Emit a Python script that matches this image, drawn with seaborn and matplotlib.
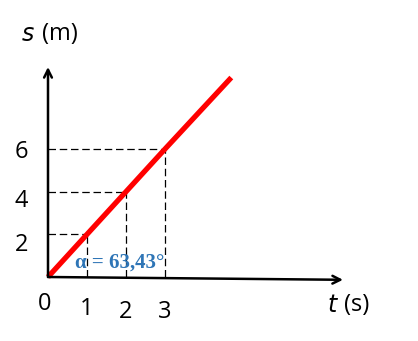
import matplotlib
matplotlib.use("Agg")
import matplotlib.pyplot as plt
import seaborn as sns
import pandas as pd

# data
t_line = [0, 1, 2, 3, 4.7]
s_line = [0, 2, 4, 6, 9.35]
t_marks = [1, 2, 3]
s_marks = [2, 4, 6]
x_tick_labels = ["0", "1", "2", "3"]
y_tick_labels = ["2", "4", "6"]
angle_text = "α = 63,43°"

sns.set_style("white")
plt.rcParams['font.family'] = ['Open Sans', 'DejaVu Sans']
plt.rcParams['text.color'] = 'black'

fig = plt.figure(figsize=(4.18, 3.41), dpi=100)
ax = fig.add_axes([0, 0, 1, 1])
# pixel mapping: x_px = 48 + 39 t ; y_px(from top) = 277 - 21.333 s
ax.set_xlim(-48 / 39, (418 - 48) / 39)
ax.set_ylim(-64 / 21.333, (341 - 64) / 21.333)
for sp in ax.spines.values():
    sp.set_visible(False)
ax.set_xticks([])
ax.set_yticks([])

# dashed guides
for t, s in zip(t_marks, s_marks):
    ax.plot([0, t], [s, s], color="black", lw=0.9, ls=(0, (6, 3)))
    ax.plot([t, t], [0, s], color="black", lw=0.9, ls=(0, (6, 3)))

# axes arrows
ax.annotate("", xy=(0, (277 - 67) / 21.333), xytext=(0, 0),
            arrowprops=dict(arrowstyle="->", color="black", lw=1.8,
                            mutation_scale=14, shrinkA=0, shrinkB=0))
ax.annotate("", xy=((343 - 48) / 39, -2.8 / 21.333), xytext=(0, 0),
            arrowprops=dict(arrowstyle="->", color="black", lw=1.8,
                            mutation_scale=14, shrinkA=0, shrinkB=0))

# red line
df = pd.DataFrame({"t": t_line, "s": s_line})
sns.lineplot(data=df, x="t", y="s", ax=ax, color="#ff0000", lw=3.8,
             solid_capstyle="butt")

# tick labels (hand placed like the original)
xlab_pos = [(-0.08, -1.25), (1.0, -1.5), (2.0, -1.65), (3.0, -1.65)]
for lab, (x, y) in zip(x_tick_labels, xlab_pos):
    ax.text(x, y, lab, ha="center", va="center", fontsize=17, color="black")
for lab, y in zip(y_tick_labels, [1.5, 3.55, 5.85]):
    ax.text(-0.68, y, lab, ha="center", va="center", fontsize=17,
            color="black")

# axis labels
ax.text(-0.35, 11.4, "$s$", ha="right", va="center", fontsize=17,
        fontfamily="DejaVu Sans", color="black")
ax.text(-0.15, 11.4, "(m)", ha="left", va="center", fontsize=17,
        color="black")
ax.text(7.45, -1.32, "$t$", ha="right", va="center", fontsize=17,
        fontfamily="DejaVu Sans", color="black")
ax.text(7.6, -1.32, "(s)", ha="left", va="center", fontsize=17,
        color="black")

# angle annotation
ax.text(0.68, 0.66, angle_text, ha="left", va="center", fontsize=15,
        fontweight="bold", color="#2e75b6", family=["Liberation Serif"])

fig.savefig("out.png", dpi=100)
